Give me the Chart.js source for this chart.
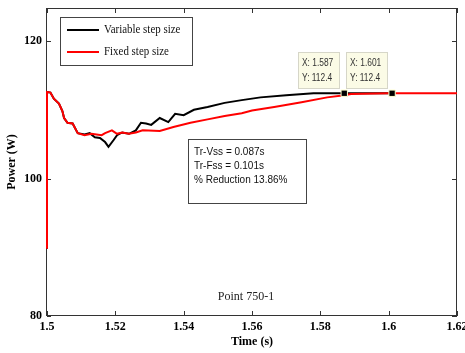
<!DOCTYPE html>
<html>
<head>
<meta charset="utf-8">
<script src="https://cdn.jsdelivr.net/npm/chart.js@4.4.1/dist/chart.umd.min.js"></script>
<style>
  html, body { margin: 0; padding: 0; background: #fff; }
  #wrap { width: 465px; height: 353px; }
</style>
</head>
<body>
<div id="wrap"><canvas id="powerChart" width="465" height="353"></canvas></div>
<script>
// series
const seriesLabels = ['Variable step size', 'Fixed step size'];

const varTime = [1.5, 1.5, 1.501, 1.502, 1.5035, 1.5045, 1.505, 1.506, 1.5075, 1.509, 1.511,
    1.5125, 1.514, 1.5155, 1.517, 1.518, 1.5195, 1.5205, 1.522, 1.524, 1.526, 1.5275, 1.529,
    1.5305, 1.533, 1.5355, 1.5375, 1.54, 1.543, 1.547, 1.552, 1.557, 1.5625, 1.57, 1.578,
    1.587, 1.601];
const varPower = [89.8, 112.6, 112.5, 111.6, 110.9, 109.8, 108.8, 108.1, 108.0, 106.6, 106.4,
    106.6, 106.0, 105.9, 105.3, 104.6, 105.6, 106.3, 106.7, 106.5, 107.0, 108.1, 108.0,
    107.8, 108.8, 108.2, 109.4, 109.2, 110.0, 110.4, 111.0, 111.4, 111.8, 112.1, 112.4,
    112.4, 112.4];

const fixTime = [1.5, 1.5, 1.501, 1.502, 1.5035, 1.5045, 1.505, 1.506, 1.5075, 1.509, 1.511,
    1.513, 1.5145, 1.516, 1.517, 1.519, 1.5205, 1.522, 1.524, 1.526, 1.528, 1.533, 1.537,
    1.542, 1.547, 1.552, 1.557, 1.56, 1.5665, 1.5745, 1.582, 1.587, 1.589, 1.6, 1.62];
const fixPower = [89.8, 112.6, 112.5, 111.6, 110.9, 109.8, 108.8, 108.1, 108.0, 106.6, 106.3,
    106.5, 106.4, 106.3, 106.6, 107.0, 106.5, 106.7, 106.5, 106.7, 107.0, 106.9, 107.5,
    108.1, 108.6, 109.1, 109.5, 109.9, 110.4, 111.1, 111.8, 112.1, 112.3, 112.4, 112.4];

// data tips
const tipTime = [1.587, 1.601];
const tipPower = [112.4, 112.4];

const xTicks = [1.5, 1.52, 1.54, 1.56, 1.58, 1.6, 1.62];
const yTicks = [80, 100, 120];

const noteLines = ['Tr-Vss = 0.087s', 'Tr-Fss = 0.101s', '% Reduction 13.86%'];
const caption = 'Point 750-1';

function toPoints(xs, ys) {
    return xs.map(function (x, i) { return { x: x, y: ys[i] }; });
}

// squeeze text a bit, the original fonts are narrower
function narrowText(ctx, text, x, y, factor) {
    ctx.fillText(text, x, y, ctx.measureText(text).width * factor);
}

// frame + inward ticks under the curves, boxes and tips on top
const decorations = {
    id: 'decorations',
    beforeDatasetsDraw: function (chart) {
        const ctx = chart.ctx;
        const area = chart.chartArea;
        const xs = chart.scales.x;
        const ys = chart.scales.y;
        ctx.save();
        ctx.strokeStyle = '#333';
        ctx.lineWidth = 1;
        ctx.strokeRect(area.left - 0.5, area.top + 0.5, area.right - area.left, area.bottom - area.top - 1);

        ctx.beginPath();
        xTicks.forEach(function (v) {
            const px = Math.round(xs.getPixelForValue(v)) + 0.5;
            ctx.moveTo(px, area.bottom); ctx.lineTo(px, area.bottom - 5);
            ctx.moveTo(px, area.top); ctx.lineTo(px, area.top + 5);
        });
        yTicks.forEach(function (v) {
            const py = Math.round(ys.getPixelForValue(v)) + 0.5;
            ctx.moveTo(area.left, py); ctx.lineTo(area.left + 4, py);
            ctx.moveTo(area.right, py); ctx.lineTo(area.right - 5, py);
        });
        ctx.stroke();
        ctx.restore();
    },
    afterDatasetsDraw: function (chart) {
        const ctx = chart.ctx;
        const xs = chart.scales.x;
        const ys = chart.scales.y;
        ctx.save();

        // legend
        ctx.fillStyle = '#fff';
        ctx.fillRect(60, 17, 132, 48);
        ctx.strokeStyle = '#444';
        ctx.lineWidth = 1;
        ctx.strokeRect(60.5, 17.5, 132, 48);
        const legendColors = ['#000000', '#ff0000'];
        ctx.font = '13px "Liberation Serif"';
        ctx.textBaseline = 'middle';
        ctx.textAlign = 'left';
        seriesLabels.forEach(function (lab, i) {
            const y = 30 + i * 22;
            ctx.strokeStyle = legendColors[i];
            ctx.lineWidth = 2;
            ctx.beginPath();
            ctx.moveTo(67, y); ctx.lineTo(99, y);
            ctx.stroke();
            ctx.fillStyle = '#111';
            narrowText(ctx, lab, 104, y, 0.84);
        });

        // note box
        ctx.fillStyle = '#fff';
        ctx.fillRect(188, 139, 118, 64);
        ctx.strokeStyle = '#444';
        ctx.lineWidth = 1;
        ctx.strokeRect(188.5, 139.5, 118, 64);
        ctx.fillStyle = '#111';
        ctx.font = '11px "Liberation Sans"';
        noteLines.forEach(function (t, i) {
            narrowText(ctx, t, 194, 152 + i * 14, 0.91);
        });

        // data tips
        ctx.font = '10px "Liberation Sans"';
        tipTime.forEach(function (t, i) {
            const px = xs.getPixelForValue(t);
            const py = ys.getPixelForValue(tipPower[i]);
            const bx = Math.round(px - 46), by = Math.round(py - 41);
            ctx.fillStyle = '#fbfbe6';
            ctx.fillRect(bx, by, 41, 36);
            ctx.strokeStyle = '#d6d6c8';
            ctx.strokeRect(bx + 0.5, by + 0.5, 41, 36);
            ctx.fillStyle = '#333';
            narrowText(ctx, 'X: ' + t.toFixed(3), bx + 4, by + 11, 0.84);
            narrowText(ctx, 'Y: ' + tipPower[i].toFixed(1), bx + 4, by + 26, 0.84);
        });

        // caption
        ctx.font = '12px "Liberation Serif"';
        ctx.textAlign = 'center';
        ctx.fillStyle = '#222';
        ctx.fillText(caption, xs.getPixelForValue(1.56) - 6, 297);

        ctx.restore();
    }
};

const ctx = document.getElementById('powerChart').getContext('2d');
const powerChart = new Chart(ctx, {
    type: 'line',
    data: {
        datasets: [{
            type: 'scatter',
            label: 'tips',
            data: toPoints(tipTime, tipPower),
            pointStyle: 'rect',
            pointRadius: 4.5,
            backgroundColor: '#000',
            borderColor: '#ffffcc',
            borderWidth: 1,
            showLine: false,
            order: 0
        }, {
            label: seriesLabels[0],
            data: toPoints(varTime, varPower),
            borderColor: '#000000',
            borderWidth: 2,
            pointRadius: 0,
            tension: 0,
            clip: 4,
            order: 2
        }, {
            label: seriesLabels[1],
            data: toPoints(fixTime, fixPower),
            borderColor: '#ff0000',
            borderWidth: 2,
            pointRadius: 0,
            tension: 0,
            clip: 4,
            order: 1
        }]
    },
    options: {
        responsive: false,
        animation: false,
        layout: {
            autoPadding: false,
            padding: { left: 0, top: 8, right: 8, bottom: 0 }
        },
        plugins: {
            legend: { display: false },
            tooltip: { enabled: false }
        },
        scales: {
            x: {
                type: 'linear',
                min: 1.5,
                max: 1.62,
                afterFit: function (scale) {
                    scale.height = 37;
                    scale.paddingLeft = 0;
                    scale.paddingRight = 0;
                },
                afterBuildTicks: function (scale) {
                    scale.ticks = xTicks.map(function (v) { return { value: v }; });
                },
                grid: { display: false, drawTicks: false },
                border: { display: false },
                ticks: {
                    padding: 4,
                    color: '#000',
                    font: { family: '"Liberation Serif"', size: 12, weight: 'bold' },
                    maxRotation: 0,
                    autoSkip: false,
                    callback: function (v) { return String(Number(v.toFixed(2))); }
                },
                title: {
                    display: true,
                    text: 'Time (s)',
                    color: '#000',
                    font: { family: '"Liberation Serif"', size: 12, weight: 'bold' },
                    padding: { top: 0, bottom: 4 }
                }
            },
            y: {
                min: 80,
                max: 124.8,
                afterFit: function (scale) {
                    scale.width = 47;
                    scale.paddingTop = 0;
                    scale.paddingBottom = 0;
                },
                afterBuildTicks: function (scale) {
                    scale.ticks = yTicks.map(function (v) { return { value: v }; });
                },
                grid: { display: false, drawTicks: false },
                border: { display: false },
                ticks: {
                    padding: 5,
                    color: '#000',
                    font: { family: '"Liberation Serif"', size: 12, weight: 'bold' },
                    autoSkip: false
                },
                title: {
                    display: true,
                    text: 'Power (W)',
                    color: '#000',
                    font: { family: '"Liberation Serif"', size: 12, weight: 'bold' },
                    padding: { top: 5, bottom: 4 }
                }
            }
        }
    },
    plugins: [decorations]
});
</script>
</body>
</html>
